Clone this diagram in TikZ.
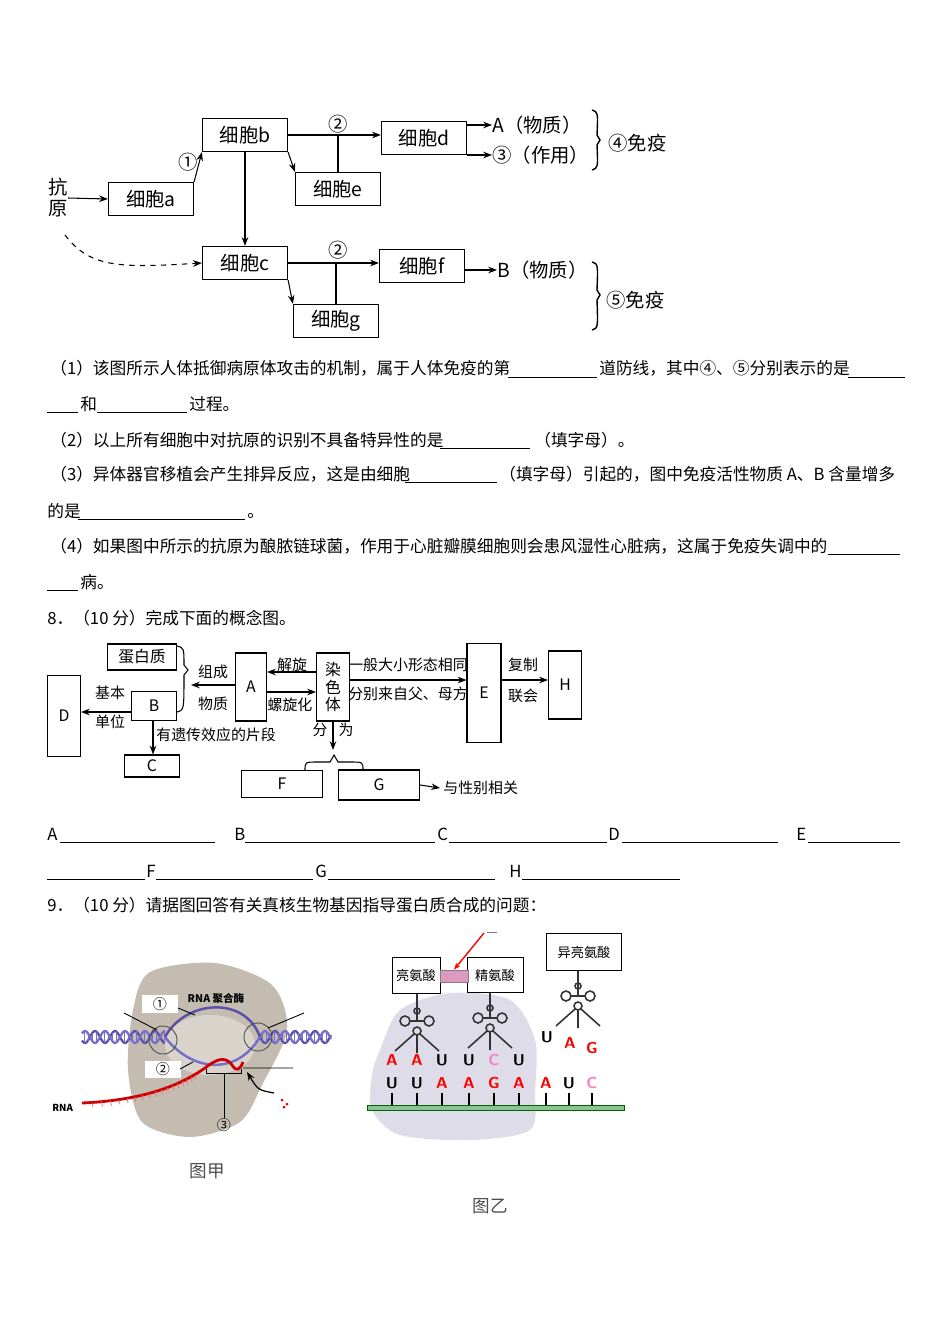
\documentclass[tikz,border=0pt]{standalone}
\usepackage{fontspec}
\setmainfont{Noto Sans CJK SC}
\usetikzlibrary{arrows.meta,decorations.pathreplacing}
\begin{document}
\begin{tikzpicture}[x=0.02cm,y=-0.02cm,
  q/.style={anchor=base west,inner sep=0,font=\fontsize{9.5pt}{11pt}\selectfont},
  ul/.style={line width=0.5pt},
  ib/.style={draw,line width=0.7pt,minimum width=1.7cm,minimum height=0.66cm,font=\fontsize{11pt}{12pt}\selectfont,inner sep=0},
  il/.style={font=\fontsize{11pt}{12pt}\selectfont,inner sep=0},
  ar/.style={-{Stealth[length=5pt]},line width=0.6pt},
  cb/.style={draw,line width=0.6pt,inner sep=0,font=\fontsize{9pt}{10pt}\selectfont},
  cl/.style={inner sep=0,font=\fontsize{8.5pt}{10pt}\selectfont},
  trna/.pic={\draw[gray!40!black,line width=0.9pt]
      (0,-32)--(0,-4) (-12,-4) circle (5) (12,-4) circle (5) (0,-14) circle (3)
      (-7,-4)--(7,-4) (0,6) circle (4) (-3,9)--(-22,26) (3,9)--(22,26) (0,10)--(0,28);}]
\useasboundingbox (0,0) rectangle (950,1344);
% ---------- immune figure ----------
\node[il,align=center] (ky) at (58,198) {抗\\原};
\node[ib] (a) at (151,199) {细胞a};
\node[ib] (b) at (245,135) {细胞b};
\node[ib] (d) at (424,138) {细胞d};
\node[ib] (e) at (338,189) {细胞e};
\node[ib] (c) at (245,263) {细胞c};
\node[ib] (f) at (422,266) {细胞f};
\node[ib] (g) at (336,321) {细胞g};
\draw[ar] (ky.east) -- (a.west);
\draw[ar] (a.north east) -- (b.south west);
\node[il] (n1) at (188,162) {①};
\draw[ar] (b.east) -- (b.east-|d.west);
\node[il] (n2a) at (338,124) {②};
\draw[line width=0.6pt] (e.north) -- (e.north|-b.east);
\draw[ar] (b.south east) -- (e.north west);
\draw[ar] (b.south) -- (c.north);
\coordinate (ds) at (65,235);
\draw[ar,dashed] (ds) .. controls (90,268) and (120,268) .. (c.west);
\draw[ar] (c.east) -- (c.east-|f.west);
\node[il] (n2b) at (338,250) {②};
\draw[line width=0.6pt] (g.north) -- (g.north|-c.east);
\draw[ar] (c.south east) -- (g.north west);
\node[il,anchor=west] (A) at (492,125) {A（物质）};
\node[il,anchor=west] (z3) at (492,155) {③（作用）};
\draw[ar] (d.east|-A.west) -- (A.west);
\draw[ar] (d.east|-z3.west) -- (z3.west);
\draw[line width=0.8pt] (592,110) .. controls (598,112) .. (597,135) -- (600,140) -- (597,145) .. controls (598,168) .. (592,170);
\node[il,anchor=west] (m4) at (608,143) {④免疫};
\node[il,anchor=west] (B) at (497,270) {B（物质）};
\draw[ar] (f.east|-B.west) -- (B.west);
\draw[line width=0.8pt] (592,262) .. controls (598,264) .. (597,290) -- (600,295) -- (597,300) .. controls (598,328) .. (592,330);
\node[il,anchor=west] (m5) at (606,300) {⑤免疫};
% ---------- questions ----------
\node[q] at (50,375) {（1）该图所示人体抵御病原体攻击的机制，属于人体免疫的第};
\draw[ul] (508,377)--(597,377); \node[q] at (599,375) {道防线，其中④、⑤分别表示的是};
\draw[ul] (848,377)--(905,377);
\draw[ul] (47,412)--(78,412); \node[q] at (80,410) {和}; \draw[ul] (97,412)--(187,412); \node[q] at (189,410) {过程。};
\node[q] at (50,446) {（2）以上所有细胞中对抗原的识别不具备特异性的是};
\draw[ul] (440,448)--(530,448); \node[q] at (534,446) {（填字母）。};
\node[q] at (50,480) {（3）异体器官移植会产生排异反应，这是由细胞};
\draw[ul] (405,482)--(497,482); \node[q] at (499,480) {（填字母）引起的，图中免疫活性物质 A、B 含量增多};
\node[q] at (47,517) {的是}; \draw[ul] (78,519)--(245,519); \node[q] at (247,517) {。};
\node[q] at (50,552) {（4）如果图中所示的抗原为酿脓链球菌，作用于心脏瓣膜细胞则会患风湿性心脏病，这属于免疫失调中的};
\draw[ul] (828,554)--(900,554);
\draw[ul] (47,590)--(78,590); \node[q] at (80,588) {病。};
\node[q] at (47,624) {8．（10 分）完成下面的概念图。};
% ---------- concept map ----------
\node[cb,minimum width=1.38cm,minimum height=0.52cm] (prot) at (142,657) {蛋白质};
\node[cb,minimum width=0.66cm,minimum height=1.62cm] (D) at (64,716) {D};
\node[cb,minimum width=0.9cm,minimum height=0.58cm] (Bn) at (154,706) {B};
\node[cb,minimum width=0.62cm,minimum height=1.36cm] (An) at (251,687) {A};
\node[cb,minimum width=0.66cm,minimum height=1.36cm,align=center] (ch) at (333,687) {染\\色\\体};
\node[cb,minimum width=0.68cm,minimum height=1.98cm] (E) at (484,693) {E};
\node[cb,minimum width=0.66cm,minimum height=1.36cm] (H) at (565,685) {H};
\node[cb,minimum width=1.1cm,minimum height=0.44cm] (C) at (152,766) {C};
\node[cb,minimum width=1.62cm,minimum height=0.54cm] (F) at (282,784) {F};
\node[cb,minimum width=1.62cm,minimum height=0.6cm] (G) at (379,785) {G};
\draw[line width=0.6pt] (177,646) .. controls (184,648) .. (184,665) -- (188,670) -- (184,675) .. controls (184,710) .. (177,712);
\draw[ar] (An.west|-0,685) -- (191,685);
\node[cl] at (213,672) {组成}; \node[cl] at (213,704) {物质};
\draw[ar] (ch.west|-0,672) -- (An.east|-0,672);
\draw[ar] (An.east|-0,692) -- (ch.west|-0,692);
\node[cl] at (292,665) {解旋}; \node[cl] at (290,705) {螺旋化};
\draw[ar] (Bn.west|-0,712) -- (D.east|-0,712);
\node[cl] at (110,693) {基本}; \node[cl] at (110,722) {单位};
\draw[ar] (153,721) -- (C.north-|153,0);
\node[cl,anchor=west] at (156,735) {有遗传效应的片段};
\draw[ar] (ch.east|-0,680) -- (E.west|-0,680);
\node[cl] at (408,665) {一般大小形态相同}; \node[cl] at (408,694) {分别来自父、母方};
\draw[ar] (E.east|-0,680) -- (H.west|-0,680);
\node[cl] at (523,665) {复制}; \node[cl] at (523,696) {联会};
\draw[ar] (333,721) -- (333,750);
\node[cl] at (320,730) {分}; \node[cl] at (346,730) {为};
\draw[line width=0.6pt] (305,770) .. controls (305,762) .. (318,762) -- (330,762) -- (334,755) -- (338,762) -- (350,762) .. controls (363,762) .. (363,770);
\draw[ar] (G.east) -- (440,788);
\node[cl,anchor=west] at (443,788) {与性别相关};
% ---------- answer lines ----------
\node[q] at (47,840) {A}; \draw[ul] (60,842)--(215,842);
\node[q] at (234,840) {B}; \draw[ul] (245,842)--(435,842);
\node[q] at (437,840) {C}; \draw[ul] (449,842)--(607,842);
\node[q] at (608,840) {D}; \draw[ul] (622,842)--(778,842);
\node[q] at (796,840) {E}; \draw[ul] (808,842)--(900,842);
\draw[ul] (47,879)--(145,879); \node[q] at (146,877) {F}; \draw[ul] (156,879)--(313,879);
\node[q] at (315,877) {G}; \draw[ul] (328,879)--(495,879);
\node[q] at (509,877) {H}; \draw[ul] (522,879)--(680,879);
\node[q] at (47,911) {9．（10 分）请据图回答有关真核生物基因指导蛋白质合成的问题：};
% ---------- figure 甲 ----------
\fill[color={rgb,255:red,196;green,188;blue,176}] plot[smooth cycle] coordinates {(150,972) (215,963) (272,985) (287,1030) (262,1085) (240,1122) (190,1137) (142,1122) (128,1070) (133,1010)};
\fill[white,opacity=0.35] (210,1045) ellipse (45 and 30);
\foreach \s/\e in {82/165,260/331}{
  \draw[color={rgb,255:red,90;green,80;blue,170},line width=1.3pt] plot[domain=\s:\e,samples=90] (\x,{1037+6*sin(18*\x)});
  \draw[color={rgb,255:red,120;green,110;blue,200},line width=1.3pt] plot[domain=\s:\e,samples=90] (\x,{1037-6*sin(18*\x)});
}
\foreach \x in {84,88,...,164,262,266,...,330}{\draw[color={rgb,255:red,120;green,110;blue,200},line width=0.4pt] (\x,{1037-6*sin(18*\x)}) -- (\x,{1037+6*sin(18*\x)});}
\draw[color={rgb,255:red,90;green,80;blue,170},line width=1.4pt] (165,1037) .. controls (185,1000) and (245,995) .. (260,1037);
\draw[color={rgb,255:red,120;green,110;blue,200},line width=1.4pt] (165,1037) .. controls (190,1070) and (235,1078) .. (260,1037);
\draw[red!80!black,line width=1.6pt] (82,1103) .. controls (150,1100) and (185,1082) .. (205,1068) .. controls (215,1060) and (225,1055) .. (232,1065) .. controls (236,1072) and (240,1070) .. (243,1062);
\foreach \t in {0.05,0.1,...,0.9}{\path (82,1103) .. controls (150,1100) and (185,1082) .. (205,1068) coordinate[pos=\t] (pp); \draw[red!60,line width=0.4pt] (pp) -- ++(1,5);}
\draw[gray!60!black,line width=0.5pt] (163,1040) circle (14) (258,1037) circle (14);
\node[fill=white,minimum width=0.74cm,minimum height=0.36cm,inner sep=0,font=\fontsize{8pt}{9pt}\selectfont] (c1) at (160,1004) {①};
\node[fill=white,minimum width=0.74cm,minimum height=0.34cm,inner sep=0,font=\fontsize{8pt}{9pt}\selectfont] (c2) at (163,1069) {②};
\node[inner sep=0,font=\fontsize{6pt}{7pt}\bfseries] (rp) at (216,998) {RNA 聚合酶};
\node[inner sep=0,font=\fontsize{5.5pt}{6pt}\bfseries,anchor=west] (rn) at (52,1108) {RNA};
\node[inner sep=0,font=\fontsize{8pt}{9pt}\selectfont] (c3) at (224,1125) {③};
\draw[line width=0.5pt] (124,1013) -- (157,1030) (304,1013) -- (268,1028) (243,1068) -- (293,1068)
  (178,1008) -- (195,1015) (180,1069) -- (193,1062);
\draw[line width=0.5pt] (206,1069) -- (206,1073) -- (241,1073) -- (241,1069) (224,1073) -- (c3.north);
\draw[-{Stealth[length=5pt]},line width=0.7pt] (274,1093) .. controls (258,1090) .. (247,1072);
\fill[red!80!black] (282,1100) circle (1.5) (287,1104) circle (1.5) (284,1107) circle (1.5);
\node[inner sep=0,font=\fontsize{10pt}{11pt}\selectfont,gray!60!black] (j) at (207,1171) {图甲};
% ---------- figure 乙 ----------
\fill[color={rgb,255:red,222;green,220;blue,232}] plot[smooth cycle] coordinates {(380,1050) (400,1010) (450,993) (510,1000) (535,1040) (535,1090) (530,1130) (470,1140) (400,1135) (372,1110) (372,1075)};
\fill[color={rgb,255:red,140;green,195;blue,150},draw=green!40!black,line width=0.4pt] (367,1105) rectangle (624,1110);
\foreach \x/\l/\c in {392/U/black,417/U/black,442/A/red,469/A/red,494/G/red,519/A/red,546/A/red,569/U/black,592/C/magenta!50}{
  \draw[line width=0.7pt] (\x,1105) -- (\x,1093);
  \node[inner sep=0,font=\fontsize{9pt}{10pt}\sffamily\bfseries,text=\c] at (\x,1083) {\l};}
\foreach \x/\l/\c in {392/A/red,417/A/red,442/U/black,469/U/black,494/C/magenta!50,519/U/black}{
  \node[inner sep=0,font=\fontsize{9pt}{10pt}\sffamily\bfseries,text=\c] at (\x,1060) {\l};}
\node[inner sep=0,font=\fontsize{9pt}{10pt}\sffamily\bfseries] at (547,1037) {U};
\node[inner sep=0,font=\fontsize{9pt}{10pt}\sffamily\bfseries,text=red] at (570,1043) {A};
\node[inner sep=0,font=\fontsize{9pt}{10pt}\sffamily\bfseries,text=red] at (592,1048) {G};
\pic at (417,1025) {trna}; \pic at (490,1022) {trna}; \pic at (578,1000) {trna};
\node[draw,fill=white,minimum width=0.96cm,minimum height=0.72cm,inner sep=0,font=\fontsize{7.5pt}{8pt}\selectfont] (ls) at (416,975) {亮氨酸};
\node[draw,fill=white,minimum width=1.12cm,minimum height=0.7cm,inner sep=0,font=\fontsize{7.5pt}{8pt}\selectfont] (js) at (495,975) {精氨酸};
\node[draw,fill=white,minimum width=1.5cm,minimum height=0.74cm,inner sep=0,font=\fontsize{7.5pt}{8pt}\selectfont] (ys) at (584,952) {异亮氨酸};
\node[draw=gray,fill=magenta!40!violet!45,minimum width=0.56cm,minimum height=0.24cm,inner sep=0] (pb) at (454,976) {};
\coordinate (rs) at (484,933);
\draw[red,line width=0.8pt,-{Stealth[length=4pt]}] (rs) -- (pb.north);
\draw[gray,line width=0.4pt] (487,932) -- (497,932);
\node[inner sep=0,font=\fontsize{10pt}{11pt}\selectfont,gray!60!black] (yi) at (490,1206) {图乙};
\end{tikzpicture}
\end{document}
